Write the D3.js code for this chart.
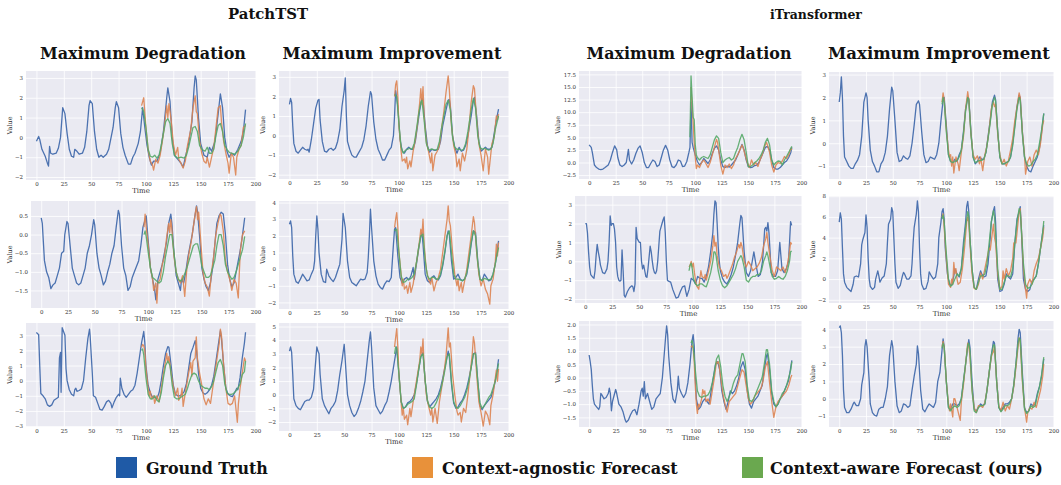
<!DOCTYPE html>
<html>
<head>
<meta charset="utf-8">
<script src="https://cdn.jsdelivr.net/npm/d3@7"></script>
<style>
body { margin: 0; background: #fff; }
svg { display: block; }
</style>
</head>
<body>
<svg width="1061" height="485"></svg>
<script>
// values, [time, value]
// gt = ground truth, ag = context-agnostic forecast, aw = context-aware forecast

// PatchTST / max degradation
var gt1 = [[0,-0.2],[2,0.05],[3,-0.1],[5,-0.6],[8,-0.95],[10,-1.3],[11,-1.45],[12,-0.45],[13,-0.8],[15,-0.85],[18,-0.8],[20,-0.55],[22,0.0],[24,1.5],[26,1.2],[28,0.2],[30,-0.6],[32,-0.95],[34,-1.0],[35,-0.6],[37,-0.7],[39,-0.85],[42,-0.8],[44,-0.5],[46,0.3],[48,1.6],[49,1.85],[51,1.7],[53,0.3],[55,-0.6],[57,-1.0],[59,-0.9],[61,-1.0],[64,-0.85],[66,-0.6],[70,0.5],[72,1.5],[73,1.8],[75,1.5],[77,0.2],[79,-0.5],[81,-0.9],[84,-1.35],[86,-1.35],[88,-1.0],[90,-0.8],[93,-0.3],[95,0.3],[97,1.5],[99,0.5],[101,-0.4],[103,-1.0],[105,-1.4],[107,-1.2],[110,-1.2],[113,-0.8],[116,0.3],[119,2.0],[120,2.5],[122,1.8],[124,0.0],[126,-0.9],[129,-1.1],[132,-1.3],[134,-1.5],[136,-1.0],[139,-0.3],[142,0.8],[144,2.5],[145,3.1],[146,2.9],[148,1.0],[150,-0.3],[153,-0.9],[156,-1.0],[158,-0.5],[160,-0.7],[163,-0.2],[166,1.2],[168,2.2],[170,1.5],[172,0.0],[174,-0.7],[176,-1.0],[178,-0.8],[181,-0.9],[184,-0.6],[187,-0.2],[189,0.3],[191,1.4]];
var ag1 = [[96,1.6],[98,2.0],[100,0.5],[102,-0.6],[104,-1.2],[106,-1.4],[107,-1.65],[109,-1.1],[111,-1.3],[113,-0.9],[115,-0.2],[117,0.6],[119,1.6],[120,1.0],[121,1.7],[123,0.9],[125,-0.3],[127,-0.9],[129,-0.5],[130,-1.1],[132,-1.3],[134,-1.55],[136,-1.2],[138,-0.4],[141,0.4],[143,1.5],[145,2.1],[146,1.3],[147,1.2],[149,-0.2],[151,-0.8],[153,-1.2],[155,-1.3],[156,-1.0],[158,-1.5],[160,-1.0],[162,-0.5],[164,0.5],[166,1.5],[168,1.6],[169,0.8],[171,-0.2],[173,-0.8],[175,-1.3],[176,-1.8],[178,-0.8],[180,-1.0],[182,-1.9],[183,-1.0],[185,-0.6],[187,-0.4],[189,0.5],[191,0.6]];
var aw1 = [[96,1.5],[98,1.3],[100,0.5],[102,-0.6],[104,-0.95],[106,-1.0],[108,-0.9],[110,-1.05],[112,-0.9],[114,-0.4],[116,0.2],[118,0.8],[120,0.95],[122,0.7],[124,-0.3],[126,-0.9],[129,-1.05],[132,-1.0],[135,-1.05],[137,-0.9],[139,-0.5],[141,0.0],[143,0.5],[145,0.55],[147,0.3],[149,-0.4],[151,-0.6],[154,-0.7],[156,-0.5],[158,-0.8],[160,-0.8],[162,-0.6],[164,0.1],[166,0.6],[168,0.7],[170,0.3],[172,-0.4],[174,-0.6],[176,-0.75],[178,-0.8],[181,-0.85],[184,-0.7],[187,-0.4],[189,0.0],[191,0.7]];

// PatchTST / max improvement
var gt2 = [[0,1.6],[1,1.9],[2,1.7],[3,0.5],[4,-0.4],[6,-0.8],[8,-0.9],[10,-0.75],[12,-0.6],[14,-0.7],[16,-0.75],[17,-0.7],[18,-0.85],[20,-0.2],[22,0.6],[24,1.4],[26,1.8],[27,1.85],[28,0.8],[30,-0.3],[32,-0.8],[34,-0.85],[36,-0.7],[38,-0.65],[40,-0.75],[42,-0.65],[44,-0.3],[46,0.3],[48,1.5],[50,2.3],[51,2.95],[52,1.0],[53,-0.3],[55,-0.7],[57,-1.0],[59,-1.1],[61,-1.1],[63,-0.9],[66,-0.6],[68,-0.2],[70,0.5],[72,1.5],[74,2.25],[75,2.1],[77,0.7],[79,-0.2],[81,-0.7],[83,-0.95],[85,-1.25],[87,-1.25],[89,-1.0],[91,-0.75],[93,-0.6],[95,0.0],[96,1.0],[97,2.3],[99,1.5],[101,-0.2],[103,-0.8],[105,-0.9],[107,-0.7],[109,-0.6],[111,-0.7],[113,-0.7],[115,-0.3],[117,0.5],[119,1.3],[121,1.9],[122,1.8],[124,0.5],[126,-0.5],[128,-0.85],[130,-0.7],[132,-0.75],[134,-0.75],[136,-0.7],[138,-0.3],[140,0.5],[143,1.3],[145,1.8],[146,1.85],[147,1.5],[149,0.0],[151,-0.6],[153,-0.9],[155,-0.6],[157,-0.8],[159,-0.75],[161,-0.5],[163,0.0],[166,1.0],[168,1.8],[169,1.95],[171,1.0],[173,-0.3],[175,-0.8],[177,-0.7],[179,-0.6],[181,-0.7],[183,-0.7],[185,-0.6],[187,0.1],[189,0.8],[191,1.35]];
var ag2 = [[96,2.0],[97,2.6],[98,2.8],[99,2.0],[100,0.5],[102,-0.8],[103,-1.3],[105,-1.2],[106,-1.4],[107,-1.1],[108,-1.7],[110,-1.3],[111,-1.6],[113,-0.8],[115,-0.2],[117,0.6],[119,1.7],[120,2.4],[121,1.6],[122,2.5],[123,1.0],[125,-0.3],[127,-0.8],[129,-1.4],[130,-0.9],[131,-1.8],[133,-1.0],[135,-0.8],[137,-0.5],[139,0.4],[141,1.2],[143,2.2],[145,3.05],[146,2.4],[147,1.4],[148,0.5],[150,-0.5],[152,-1.0],[153,-1.6],[155,-1.2],[156,-1.8],[158,-0.9],[160,-1.3],[162,-0.7],[164,0.4],[166,1.7],[168,2.55],[169,2.4],[171,0.8],[173,-0.4],[175,-1.0],[177,-1.8],[179,-0.7],[181,-1.1],[182,-1.97],[184,-0.9],[185,-0.4],[187,-0.1],[189,1.0],[190,0.8],[191,1.1]];
var aw2 = [[96,2.1],[98,2.0],[100,0.6],[102,-0.6],[104,-0.9],[106,-0.75],[108,-0.7],[110,-0.65],[112,-0.7],[114,-0.4],[116,0.3],[118,1.1],[120,1.7],[121,1.8],[123,0.8],[125,-0.4],[127,-0.75],[129,-0.7],[131,-0.7],[133,-0.75],[135,-0.7],[137,-0.3],[139,0.4],[141,1.0],[143,1.6],[145,1.8],[147,1.3],[149,-0.1],[151,-0.6],[153,-0.7],[155,-0.7],[157,-0.75],[159,-0.7],[161,-0.4],[163,0.2],[166,1.3],[168,1.9],[170,1.4],[172,0.0],[174,-0.6],[176,-0.7],[178,-0.65],[180,-0.7],[182,-0.75],[184,-0.7],[186,-0.4],[188,0.3],[191,1.0]];

// iTransformer / max degradation
var gt3 = [[0,3.5],[2,3.0],[3,2.0],[5,-0.5],[7,-1.0],[9,-1.3],[11,-1.4],[13,-1.3],[15,-1.0],[18,-0.5],[20,0.5],[22,2.0],[24,3.3],[26,2.5],[27,1.0],[29,-0.5],[31,-0.8],[33,-0.5],[35,0.0],[37,2.6],[38,0.5],[40,-0.3],[42,0.5],[44,1.8],[46,2.8],[48,3.3],[50,2.0],[52,0.0],[54,-1.0],[56,-1.0],[58,-0.2],[60,0.5],[62,0.2],[64,-0.8],[66,-0.5],[68,1.0],[70,2.5],[72,3.4],[74,2.5],[76,0.5],[78,-0.8],[80,-1.0],[82,-0.5],[84,0.5],[86,0.3],[88,-0.8],[90,-0.7],[92,0.2],[94,2.0],[95,3.0],[96,12.0],[97,4.0],[98,3.0],[100,1.5],[102,0.2],[104,-0.5],[106,0.0],[108,0.8],[110,0.3],[112,-0.2],[114,0.5],[116,1.8],[118,2.8],[120,3.3],[122,2.5],[124,0.5],[126,-0.8],[128,-1.0],[130,-0.7],[132,-0.9],[134,-0.5],[136,0.0],[138,0.5],[140,1.5],[142,2.5],[144,3.6],[146,2.5],[148,0.5],[150,-0.8],[152,-1.0],[154,-0.9],[156,-0.6],[158,-0.5],[160,0.0],[162,1.0],[164,2.0],[166,3.0],[168,3.2],[170,2.5],[172,0.5],[174,-1.0],[176,-1.3],[178,-1.3],[180,-1.0],[182,-0.5],[184,0.0],[186,0.3],[188,1.0],[190,2.0],[191,3.0]];
var ag3 = [[96,15.0],[97,11.0],[98,8.0],[99,4.0],[100,1.0],[101,-1.2],[102,-0.5],[104,-1.0],[106,0.0],[108,0.5],[110,-0.2],[112,-1.0],[114,0.0],[116,1.5],[118,3.0],[120,4.6],[121,4.0],[122,2.5],[124,-0.5],[126,-2.3],[128,-0.5],[130,-1.0],[132,-0.3],[134,-1.2],[136,-0.5],[138,0.8],[140,1.5],[142,2.5],[144,3.5],[145,3.0],[147,1.5],[149,0.0],[151,-1.0],[153,0.5],[155,-0.5],[157,0.0],[159,-0.8],[161,0.5],[163,1.5],[165,3.0],[167,4.0],[168,3.5],[170,2.0],[172,-0.5],[174,-1.9],[176,-0.5],[178,0.0],[180,-0.2],[182,0.3],[184,1.2],[186,0.8],[188,1.5],[190,2.8],[191,2.5]];
var aw3 = [[95,5.0],[96,17.2],[97,13.0],[98,9.0],[99,8.5],[100,3.5],[101,1.5],[102,1.0],[104,0.5],[106,1.0],[108,1.2],[110,1.0],[112,0.8],[114,1.5],[116,3.0],[118,4.5],[120,5.3],[122,4.8],[124,2.0],[126,0.0],[128,0.5],[130,0.8],[132,1.0],[134,0.5],[136,0.8],[138,2.0],[140,3.0],[142,4.5],[144,5.6],[146,4.5],[148,2.0],[150,-0.8],[152,-0.8],[154,-0.5],[156,0.0],[158,0.3],[160,0.8],[162,1.5],[164,2.5],[166,4.0],[168,4.8],[170,3.5],[172,0.5],[174,-0.5],[176,0.0],[178,0.3],[180,0.2],[182,-0.5],[184,0.5],[186,1.2],[188,2.0],[190,2.8],[191,3.2]];

// iTransformer / max improvement
var gt4 = [[0,1.8],[1,2.2],[2,2.9],[3,2.0],[4,0.3],[5,-0.6],[7,-0.8],[9,-1.0],[11,-1.1],[13,-1.1],[15,-0.9],[17,-0.75],[19,-0.5],[21,0.3],[23,1.8],[25,2.2],[26,2.0],[27,1.0],[29,-0.3],[31,-0.8],[33,-1.0],[35,-1.25],[37,-1.25],[39,-0.9],[41,-0.75],[43,-0.4],[45,0.3],[47,1.5],[49,2.45],[50,2.3],[52,1.0],[54,-0.4],[56,-0.8],[58,-0.75],[60,-0.55],[62,-0.65],[64,-0.7],[66,-0.55],[68,0.0],[70,0.8],[72,1.7],[74,1.85],[75,1.7],[77,0.5],[79,-0.5],[81,-0.85],[83,-0.8],[85,-0.6],[87,-0.65],[89,-0.7],[91,-0.5],[93,0.0],[95,1.0],[97,1.9],[98,2.0],[100,0.8],[102,-0.5],[104,-0.8],[106,-0.85],[108,-0.7],[110,-0.8],[112,-0.5],[114,-0.3],[116,0.5],[118,1.5],[120,2.0],[121,1.95],[123,0.5],[125,-0.6],[127,-0.9],[129,-0.8],[131,-0.6],[133,-0.7],[135,-0.7],[137,-0.4],[139,0.3],[141,1.0],[143,1.8],[145,2.1],[146,1.9],[148,0.5],[150,-0.6],[152,-0.9],[154,-0.9],[156,-0.85],[158,-0.8],[160,-0.6],[162,0.0],[164,0.8],[166,1.6],[168,2.1],[169,2.0],[171,0.5],[173,-0.6],[175,-1.0],[177,-1.2],[179,-1.25],[181,-1.0],[183,-0.8],[185,-0.6],[187,-0.2],[189,0.5],[191,1.3]];
var ag4 = [[96,1.8],[97,2.2],[98,1.9],[100,0.6],[102,-0.3],[103,-0.6],[104,-0.5],[105,-1.0],[106,-0.6],[107,-1.3],[109,-0.6],[111,-0.9],[112,-1.2],[114,-0.4],[116,0.3],[118,1.5],[120,2.25],[121,1.9],[123,0.4],[125,-0.5],[127,-0.7],[129,-0.55],[131,-0.9],[132,-0.6],[134,-1.2],[136,-0.5],[138,-0.1],[140,0.6],[142,1.5],[144,1.8],[145,1.6],[146,1.7],[148,0.4],[150,-0.5],[152,-0.9],[154,-0.7],[156,-1.0],[158,-0.75],[160,-0.3],[162,0.2],[164,1.0],[166,1.6],[168,2.2],[169,2.0],[171,0.5],[173,-0.5],[174,-1.35],[176,-0.8],[178,-0.6],[180,-1.0],[182,-0.5],[184,-0.3],[186,-0.5],[188,0.0],[190,0.8],[191,1.0]];
var aw4 = [[96,1.7],[97,2.0],[98,1.8],[100,0.5],[102,-0.5],[104,-0.8],[106,-0.85],[108,-0.8],[110,-0.75],[112,-0.6],[114,-0.3],[116,0.4],[118,1.4],[120,2.0],[121,1.9],[123,0.4],[125,-0.6],[127,-0.85],[129,-0.8],[131,-0.75],[133,-0.75],[135,-0.7],[137,-0.4],[139,0.2],[141,0.9],[143,1.7],[145,2.0],[146,1.85],[148,0.5],[150,-0.6],[152,-0.9],[154,-0.9],[156,-0.85],[158,-0.8],[160,-0.6],[162,-0.1],[164,0.7],[166,1.5],[168,2.0],[169,1.9],[171,0.4],[173,-0.6],[175,-0.9],[177,-1.0],[179,-0.95],[181,-0.8],[183,-0.7],[185,-0.5],[187,0.0],[189,0.6],[191,1.3]];

// PatchTST / max degradation, row 2
var gt5 = [[0,0.45],[1,0.3],[2,-0.2],[3,-0.7],[5,-1.0],[7,-1.15],[9,-1.45],[11,-1.35],[13,-1.3],[15,-1.1],[17,-0.9],[19,-0.5],[21,-0.45],[22,0.0],[24,0.35],[25,0.3],[27,-0.3],[29,-0.9],[31,-1.1],[33,-1.3],[35,-1.35],[37,-1.3],[39,-1.1],[41,-0.9],[43,-0.5],[45,-0.3],[47,0.0],[49,0.4],[50,0.25],[52,-0.5],[54,-0.9],[56,-1.1],[58,-1.35],[60,-1.25],[62,-1.0],[64,-0.8],[66,-0.5],[68,-0.3],[70,0.2],[72,0.65],[73,0.55],[75,-0.3],[77,-0.9],[79,-1.1],[81,-1.5],[83,-1.4],[85,-1.15],[87,-1.0],[89,-0.85],[91,-0.7],[93,-0.3],[95,0.2],[97,0.4],[98,0.5],[100,-0.2],[102,-0.9],[104,-1.2],[106,-1.5],[107,-1.75],[109,-1.2],[111,-1.0],[113,-0.8],[115,-0.5],[117,-0.2],[119,0.3],[121,0.55],[122,0.3],[124,-0.5],[126,-1.1],[128,-1.3],[130,-1.5],[131,-1.2],[133,-1.3],[135,-1.0],[137,-0.6],[139,-0.3],[141,0.0],[143,0.4],[145,0.77],[146,0.6],[148,-0.1],[150,-0.9],[152,-1.2],[154,-1.4],[156,-1.5],[158,-1.3],[160,-0.9],[162,-0.3],[164,0.3],[166,0.5],[168,0.6],[170,0.55],[172,0.0],[174,-0.8],[176,-1.2],[178,-1.4],[180,-1.3],[182,-1.0],[184,-0.7],[186,-0.4],[188,0.0],[190,0.45]];
var ag5 = [[96,0.2],[97,0.55],[98,0.2],[100,-0.3],[102,-0.9],[104,-1.2],[105,-1.5],[107,-1.3],[108,-1.84],[109,-1.3],[111,-1.2],[113,-0.8],[115,-0.6],[117,-0.1],[119,0.3],[120,0.05],[121,0.4],[122,0.15],[124,-0.6],[126,-1.0],[128,-1.2],[130,-1.3],[132,-1.1],[134,-1.66],[136,-0.9],[138,-0.5],[140,-0.2],[142,0.2],[144,0.6],[145,0.75],[146,0.4],[147,0.6],[149,-0.2],[151,-1.0],[153,-1.3],[155,-1.4],[157,-1.65],[159,-1.0],[161,-0.6],[163,0.0],[165,0.3],[167,0.55],[168,0.5],[170,0.1],[172,-0.7],[174,-1.0],[176,-1.2],[178,-1.5],[180,-1.2],[182,-1.3],[184,-1.7],[185,-1.0],[186,-0.4],[188,0.0],[190,0.1]];
var aw5 = [[96,0.0],[97,0.1],[98,-0.05],[100,-0.5],[102,-0.9],[104,-1.15],[106,-1.2],[108,-1.25],[110,-1.3],[112,-1.25],[114,-1.0],[116,-0.6],[118,-0.3],[120,0.0],[122,0.0],[124,-0.5],[126,-1.0],[128,-1.2],[130,-1.25],[132,-1.2],[134,-1.05],[136,-0.9],[138,-0.7],[140,-0.5],[142,-0.3],[144,-0.25],[146,-0.25],[148,-0.5],[150,-0.85],[152,-1.0],[154,-1.15],[156,-1.15],[158,-1.1],[160,-0.9],[162,-0.7],[164,-0.3],[166,0.0],[168,0.0],[170,-0.3],[172,-0.8],[174,-1.0],[176,-1.1],[178,-1.2],[180,-1.15],[182,-1.0],[184,-0.8],[186,-0.6],[188,-0.4],[190,-0.05]];

// PatchTST / max improvement, row 2
var gt6 = [[0,2.7],[1,2.9],[2,2.5],[3,0.8],[4,-0.3],[6,-0.75],[8,-0.85],[10,-0.6],[12,-0.3],[14,-0.5],[16,-0.7],[18,-0.65],[20,-0.3],[22,0.0],[23,0.5],[24,2.0],[25,3.2],[26,2.4],[27,1.0],[29,-0.3],[31,-0.75],[33,-0.8],[34,0.0],[36,-0.4],[38,-0.6],[40,-0.75],[42,-0.5],[44,-0.1],[46,0.3],[48,1.8],[49,3.35],[51,2.5],[53,0.5],[55,-0.5],[57,-0.8],[59,-0.9],[61,-1.0],[63,-0.8],[65,-0.6],[67,-0.65],[69,-0.6],[71,-0.2],[72,0.7],[73,2.0],[74,3.6],[75,2.5],[77,0.5],[79,-0.4],[81,-0.9],[83,-1.1],[85,-1.2],[87,-0.9],[89,-0.7],[91,-0.75],[93,-0.5],[94,0.5],[95,1.5],[96,2.4],[97,2.5],[99,0.8],[101,-0.5],[103,-0.85],[105,-0.6],[107,-0.5],[109,-0.65],[111,-0.4],[113,0.1],[114,-0.6],[116,0.3],[118,1.2],[120,2.0],[121,2.2],[122,1.5],[124,-0.3],[126,-0.7],[128,-0.8],[130,-0.5],[132,-0.4],[134,-0.6],[136,-0.65],[138,-0.4],[140,0.2],[142,1.0],[144,2.0],[145,2.3],[146,2.1],[148,0.5],[150,-0.6],[152,-0.5],[154,-0.3],[156,-0.6],[158,-0.7],[160,-0.6],[162,-0.3],[164,0.5],[166,1.5],[168,2.3],[170,2.2],[172,0.5],[174,-0.6],[176,-0.7],[178,-0.3],[180,-0.5],[182,-0.7],[184,-0.65],[186,-0.3],[188,0.3],[190,1.2],[191,1.7]];
var ag6 = [[96,2.5],[97,3.0],[98,3.4],[99,2.5],[100,1.0],[102,-0.3],[103,-1.0],[104,-0.6],[105,-1.2],[107,-1.0],[108,-1.45],[110,-0.8],[111,-1.4],[113,-0.9],[115,0.0],[117,0.8],[119,1.8],[120,2.4],[121,2.0],[122,3.0],[123,1.5],[125,0.0],[127,-0.6],[129,-0.9],[130,-0.5],[132,-1.3],[134,-0.8],[136,-0.5],[138,0.0],[140,1.0],[142,2.0],[144,3.0],[145,3.8],[146,2.9],[147,2.6],[149,1.0],[151,-0.3],[153,-1.0],[154,-0.6],[155,-1.3],[157,-0.8],[158,-1.4],[160,-0.7],[162,0.0],[164,1.0],[166,2.0],[168,3.15],[169,2.8],[171,1.0],[173,-0.3],[175,-1.0],[177,-0.6],[179,-1.2],[181,-1.5],[183,-2.1],[184,-1.0],[186,-0.6],[188,0.4],[189,1.5],[190,0.8],[191,1.6]];
var aw6 = [[96,2.3],[98,2.4],[100,1.0],[102,-0.4],[104,-0.8],[106,-0.75],[108,-0.6],[110,-0.6],[112,-0.5],[114,-0.3],[116,0.4],[118,1.3],[120,2.0],[122,2.1],[124,0.5],[126,-0.4],[128,-0.6],[130,-0.5],[132,-0.5],[134,-0.6],[136,-0.6],[138,-0.3],[140,0.3],[142,1.1],[144,2.0],[146,2.3],[148,1.0],[150,-0.3],[152,-0.6],[154,-0.6],[156,-0.65],[158,-0.7],[160,-0.6],[162,-0.2],[164,0.6],[166,1.6],[168,2.3],[170,2.0],[172,0.4],[174,-0.6],[176,-0.7],[178,-0.55],[180,-0.6],[182,-0.65],[184,-0.6],[186,-0.3],[188,0.3],[190,1.0],[191,1.3]];

// iTransformer / max degradation, row 2
var gt7 = [[0,2.0],[1,2.0],[2,1.5],[3,0.5],[4,-0.3],[5,-0.7],[7,-0.85],[8,-0.9],[9,-0.5],[10,0.3],[11,0.9],[12,0.5],[13,0.2],[14,-0.2],[16,-0.6],[18,-0.65],[20,-0.4],[21,0.0],[22,1.0],[23,2.4],[24,1.9],[25,2.0],[26,2.0],[27,1.7],[28,1.0],[29,-0.3],[30,-0.8],[31,-1.0],[32,-1.05],[33,-1.0],[34,0.6],[35,-0.5],[36,-1.8],[37,-1.9],[39,-1.6],[41,-1.4],[43,-1.3],[44,-1.35],[45,-1.6],[46,-1.2],[47,1.8],[48,1.2],[50,1.0],[51,1.0],[52,0.0],[53,-0.4],[54,-0.2],[55,-0.5],[56,-0.8],[57,-0.85],[58,-0.4],[59,0.2],[60,0.8],[61,0.5],[62,0.0],[63,-0.4],[64,-0.6],[65,-0.65],[66,-0.5],[67,0.0],[68,0.8],[69,1.6],[70,1.8],[71,2.0],[72,2.2],[73,2.35],[74,1.5],[75,0.0],[76,-1.0],[77,-1.05],[79,-1.1],[81,-1.5],[83,-1.8],[84,-1.95],[86,-1.9],[88,-1.6],[90,-1.35],[92,-1.3],[93,-1.6],[94,-1.85],[96,-1.5],[98,-0.9],[100,-1.0],[102,-1.2],[104,-0.8],[106,-0.9],[108,-0.9],[110,-1.1],[112,-0.8],[114,-0.3],[116,0.5],[118,1.5],[119,2.5],[120,3.2],[121,3.1],[122,2.0],[123,0.8],[124,0.0],[125,-0.5],[127,-0.9],[129,-1.1],[131,-1.2],[133,-1.0],[135,-0.7],[137,-0.3],[139,0.3],[141,1.0],[143,2.0],[144,2.43],[145,2.3],[147,0.5],[149,-0.6],[151,-0.8],[153,-0.5],[156,0.5],[158,-0.2],[160,-0.8],[162,-0.7],[164,0.0],[165,0.8],[166,1.7],[167,1.8],[168,1.6],[169,2.05],[170,1.5],[171,0.5],[172,-0.6],[174,-0.8],[176,-0.8],[178,-0.5],[180,1.0],[182,-0.4],[184,-0.6],[186,-0.4],[188,0.0],[189,1.0],[190,2.1],[191,1.9]];
var ag7 = [[96,-0.3],[97,-0.2],[98,0.0],[99,-0.3],[100,-0.1],[101,-0.6],[102,-1.0],[103,-1.3],[105,-1.48],[106,-0.9],[107,-0.5],[108,-0.8],[110,-0.9],[111,-0.7],[112,-1.0],[114,-0.5],[116,0.0],[118,0.8],[119,1.36],[120,0.8],[121,1.0],[122,0.3],[124,-0.3],[126,-0.5],[128,-0.8],[130,-0.7],[131,-0.9],[132,-0.8],[134,-0.5],[136,-0.2],[138,0.2],[140,0.5],[142,0.9],[143,0.7],[144,1.0],[145,0.8],[147,0.0],[149,-0.3],[151,0.0],[153,-0.2],[155,-0.5],[157,-0.4],[159,-0.3],[161,-0.1],[163,0.2],[165,0.8],[167,1.2],[168,1.53],[169,1.0],[171,0.2],[173,-0.5],[175,-0.8],[177,-0.3],[179,-0.4],[181,-0.5],[183,-0.3],[185,-0.6],[187,-0.2],[189,0.5],[190,1.0],[191,0.9]];
var aw7 = [[96,-0.5],[97,-0.2],[98,-0.1],[99,-0.4],[100,-0.9],[102,-1.2],[104,-1.3],[106,-1.2],[108,-1.2],[110,-1.3],[112,-1.35],[114,-1.0],[116,-0.6],[118,0.0],[119,0.5],[120,0.5],[121,0.3],[123,-0.5],[125,-1.0],[127,-1.3],[129,-1.4],[131,-1.3],[133,-1.1],[135,-0.9],[137,-0.7],[139,-0.4],[141,0.0],[143,0.2],[144,0.3],[145,0.2],[147,-0.3],[149,-1.0],[151,-1.1],[153,-0.9],[155,-0.8],[157,-0.8],[159,-0.7],[161,-0.7],[163,-0.5],[165,0.0],[167,0.3],[168,0.5],[169,0.3],[171,-0.3],[173,-0.8],[175,-0.95],[177,-0.9],[179,-0.8],[181,-0.9],[183,-0.95],[185,-0.8],[187,-0.5],[189,0.0],[190,0.5],[191,0.55]];

// iTransformer / max improvement, row 2
var gt8 = [[0,5.5],[1,6.4],[2,5.8],[3,3.0],[4,0.5],[5,-0.3],[7,-0.8],[9,-1.0],[11,-1.2],[13,-0.5],[14,0.2],[16,0.3],[18,0.2],[20,1.5],[21,3.3],[22,3.8],[24,4.5],[25,6.2],[26,5.0],[27,2.0],[28,0.0],[29,-0.7],[31,-1.0],[33,-0.8],[34,0.0],[36,0.8],[37,0.3],[38,-0.3],[40,0.1],[42,0.3],[44,1.5],[45,3.5],[46,5.3],[48,5.8],[49,6.9],[50,6.5],[51,4.0],[52,1.5],[53,-0.3],[55,-0.9],[57,-0.6],[59,0.3],[60,0.65],[61,0.5],[63,0.0],[65,0.0],[67,0.3],[68,1.5],[69,3.5],[70,5.0],[72,6.3],[73,7.55],[74,6.5],[75,3.0],[76,0.5],[77,-0.5],[79,-1.0],[81,-0.9],[83,-0.2],[84,0.7],[86,0.3],[88,0.0],[90,0.2],[92,1.5],[93,4.0],[95,5.5],[96,6.5],[97,6.8],[98,5.8],[99,3.0],[101,0.5],[103,-0.5],[105,-0.6],[107,0.3],[108,1.0],[110,0.5],[112,0.2],[114,1.0],[116,3.5],[118,5.5],[119,7.0],[120,7.5],[121,6.5],[122,4.0],[124,1.0],[126,-0.8],[128,-1.0],[130,0.0],[132,0.8],[133,0.5],[135,0.2],[137,0.3],[139,1.5],[141,4.0],[142,5.5],[144,6.6],[145,7.0],[146,5.5],[147,2.5],[148,0.0],[150,-1.2],[152,-1.1],[154,-0.5],[156,0.5],[158,0.2],[160,0.0],[162,0.5],[164,3.5],[166,5.8],[168,6.5],[169,7.0],[170,5.0],[171,2.5],[172,0.0],[174,-1.0],[176,-1.2],[178,-1.0],[180,-0.2],[182,0.0],[184,0.3],[186,1.5],[188,3.0],[190,4.5],[191,5.2]];
var ag8 = [[96,6.0],[97,6.3],[98,5.0],[100,2.0],[102,-0.5],[104,-0.8],[105,0.0],[106,-0.5],[107,1.6],[108,0.5],[109,1.0],[110,0.0],[111,-0.5],[113,-0.3],[115,1.0],[117,3.0],[119,5.5],[120,6.0],[121,5.5],[122,3.5],[124,0.5],[126,-0.9],[128,-1.0],[130,-0.5],[132,0.6],[134,0.0],[136,1.0],[138,2.0],[140,3.0],[141,2.8],[143,4.5],[144,5.3],[145,4.0],[146,3.5],[148,0.5],[150,-1.0],[152,-0.7],[153,0.8],[154,0.0],[156,1.0],[158,0.3],[160,0.8],[162,2.0],[163,3.5],[165,3.5],[167,5.5],[168,6.5],[169,6.8],[170,5.0],[172,1.0],[174,-1.0],[175,-1.84],[176,-0.5],[178,0.0],[180,-0.5],[182,0.8],[184,1.5],[186,2.0],[188,3.0],[190,4.0],[191,5.0]];
var aw8 = [[96,5.8],[97,6.2],[98,5.5],[100,2.5],[102,0.0],[104,-0.7],[106,-0.5],[108,0.0],[110,0.5],[112,0.3],[114,1.0],[116,3.0],[118,5.0],[120,6.5],[121,6.0],[122,4.0],[124,1.0],[126,-0.8],[128,-1.0],[130,-0.3],[132,0.3],[134,0.3],[136,0.5],[138,1.5],[140,3.5],[142,5.5],[144,6.6],[145,6.0],[146,4.5],[148,1.0],[150,-1.0],[152,-1.0],[154,-0.3],[156,0.3],[158,0.3],[160,0.2],[162,1.0],[164,3.5],[166,5.5],[168,6.8],[169,6.5],[170,5.0],[172,1.5],[174,-0.5],[176,-0.9],[178,-0.8],[180,-0.5],[182,0.0],[184,0.3],[186,1.5],[188,3.0],[190,4.5],[191,5.6]];

// PatchTST / max degradation, row 3
var gt9 = [[0,3.2],[1,3.1],[2,3.05],[3,1.0],[4,-0.85],[6,-1.0],[8,-1.2],[10,-1.6],[12,-1.7],[14,-1.6],[16,-1.3],[18,-1.2],[20,-1.1],[21,1.5],[22,1.87],[22.5,-0.77],[23.5,3.5],[25,3.2],[26,3.0],[27,0.8],[28,0.0],[30,-0.6],[32,-0.9],[34,-1.0],[35,-0.6],[36,-0.5],[37,-0.7],[39,-0.65],[41,-0.55],[43,0.0],[45,1.5],[47,2.8],[48.5,3.4],[49,3.0],[51,0.5],[52,-1.0],[54,-1.1],[56,-1.5],[58,-1.9],[60,-1.95],[62,-1.7],[64,-1.4],[66,-1.3],[68,-1.5],[69,-1.8],[71,-1.4],[73,-1.1],[75,-0.9],[76,-1.0],[76.6,0.17],[78,-0.5],[80,-0.9],[82,-1.1],[84,-0.9],[86,-0.7],[88,-0.6],[90,-0.3],[92,0.5],[94,1.5],[96,2.5],[98,3.25],[99,2.5],[100,1.0],[102,-0.3],[104,-0.8],[106,-1.1],[108,-1.1],[110,-1.2],[112,-0.8],[114,0.0],[116,1.0],[118,1.8],[120,2.25],[121,2.2],[123,1.0],[125,-0.3],[127,-0.9],[129,-1.0],[131,-1.0],[133,-0.9],[135,-0.7],[137,-0.2],[139,0.8],[141,1.8],[143,2.2],[145,2.64],[146,2.2],[148,0.5],[150,-0.5],[152,-0.8],[154,-0.9],[156,-0.8],[158,-0.6],[160,-0.3],[162,0.3],[164,1.3],[166,2.3],[168,3.3],[169,2.8],[171,1.0],[173,-0.5],[175,-0.9],[177,-1.0],[179,-1.05],[181,-0.8],[183,-0.5],[184,-0.6],[186,0.2],[188,1.5],[190,2.5],[191,3.2]];
var ag9 = [[96,2.2],[97,2.4],[98,2.3],[99,2.0],[100,0.8],[102,-0.5],[103,-1.0],[104,-0.7],[105,-1.2],[107,-1.0],[108,-1.5],[110,-1.0],[112,-1.4],[114,-0.5],[116,0.5],[118,1.3],[119,1.8],[120,1.2],[121,1.6],[123,0.5],[125,-0.4],[127,-1.0],[129,-0.5],[130,-1.3],[132,-1.0],[133,-0.5],[134,-1.7],[136,-0.8],[139,0.5],[141,1.2],[142,0.3],[143,1.3],[145,1.5],[146,2.9],[147,1.5],[149,0.5],[151,-0.3],[153,-1.2],[155,-1.6],[157,-1.2],[159,-1.5],[161,-0.5],[163,0.5],[165,1.5],[167,2.5],[168,3.4],[169,3.0],[171,1.0],[173,-0.5],[175,-1.5],[177,-1.6],[179,-1.5],[181,-1.0],[183.5,-2.75],[184.5,-1.5],[186,-0.5],[188,0.5],[190,1.5],[191,1.3]];
var aw9 = [[96,2.0],[97,2.1],[98,1.7],[100,0.2],[102,-0.9],[104,-1.2],[106,-1.2],[108,-1.0],[110,-1.3],[112,-1.4],[114,-0.8],[116,0.2],[118,1.0],[120,1.3],[122,1.0],[124,-0.3],[126,-1.1],[128,-1.2],[130,-1.2],[132,-1.1],[134,-1.0],[136,-0.9],[138,-0.5],[140,0.0],[142,0.4],[144,0.5],[146,0.4],[148,0.0],[150,-0.3],[152,-0.4],[154,-0.5],[156,-0.5],[158,-0.6],[160,-0.4],[162,0.0],[164,0.6],[166,1.2],[168,1.4],[170,1.0],[172,-0.2],[174,-0.8],[176,-0.9],[178,-0.9],[180,-0.85],[182,-0.7],[184,-0.5],[186,-0.2],[188,0.4],[190,0.6],[191,1.3]];

// PatchTST / max improvement, row 3
var gt10 = [[0,3.2],[1,3.5],[2,3.1],[3,1.5],[4,-0.3],[6,-0.8],[8,-1.0],[10,-1.1],[12,-0.8],[14,-0.5],[16,-0.4],[18,-0.4],[20,-0.2],[22,0.4],[23,1.5],[24,2.5],[25,3.5],[26,3.2],[27,3.0],[28,1.5],[30,-0.3],[32,-0.8],[34,-1.1],[36,-1.4],[38,-1.0],[40,-0.8],[42,-0.5],[44,0.3],[46,1.5],[48,2.5],[50,3.7],[51,2.5],[53,0.0],[55,-0.8],[57,-1.3],[59,-1.6],[61,-1.4],[63,-1.0],[65,-0.5],[67,0.2],[69,1.0],[71,2.5],[73,4.0],[74,4.6],[75,3.5],[77,0.5],[79,-0.8],[81,-1.1],[83,-1.4],[85,-1.2],[87,-0.8],[89,-0.5],[91,0.2],[93,1.0],[95,2.0],[97,3.0],[98,3.5],[100,1.5],[102,-0.5],[104,-1.0],[106,-0.9],[108,-0.6],[110,-0.5],[112,-0.3],[114,0.0],[116,0.8],[118,1.8],[120,2.8],[122,3.1],[124,1.0],[126,-0.5],[128,-0.9],[130,-0.7],[132,-0.5],[134,-0.3],[136,0.0],[138,0.5],[140,1.2],[142,2.0],[144,2.8],[145,3.2],[146,2.8],[148,0.8],[150,-0.6],[152,-1.0],[154,-0.9],[156,-0.6],[158,-0.4],[160,0.0],[162,0.5],[164,1.2],[166,2.0],[168,3.0],[170,3.1],[172,1.0],[174,-0.8],[176,-1.1],[178,-0.8],[180,-0.6],[182,-0.4],[184,-0.2],[186,0.3],[188,1.0],[190,2.0],[191,2.6]];
var ag10 = [[96,3.5],[97,4.2],[98,4.85],[99,3.5],[100,1.5],[102,-0.5],[103,-1.5],[104,-1.0],[105,-1.8],[107,-1.5],[108,-2.2],[110,-1.0],[111,-1.6],[113,-0.5],[115,0.5],[117,1.5],[119,2.5],[120,3.5],[121,3.0],[122,4.1],[123,2.0],[125,0.0],[127,-0.8],[129,-1.5],[130,-1.0],[131,-2.0],[133,-1.0],[135,-2.1],[137,-0.5],[139,0.5],[141,1.5],[143,2.8],[145,4.9],[146,3.5],[147,3.8],[149,1.5],[151,0.0],[153,-1.2],[154,-1.5],[156,-1.3],[157,-2.0],[159,-1.0],[161,-1.3],[163,0.0],[165,1.5],[167,3.0],[168,4.25],[169,3.8],[171,1.5],[173,-0.5],[175,-1.3],[177,-2.3],[179,-1.2],[181,-1.5],[183,-2.2],[184,-0.8],[186,0.0],[188,1.2],[189,1.8],[190,1.0],[191,1.9]];
var aw10 = [[96,3.0],[97,3.5],[98,3.4],[100,1.5],[102,-0.5],[104,-1.0],[106,-0.9],[108,-0.7],[110,-0.6],[112,-0.5],[114,-0.3],[116,0.7],[118,1.8],[120,2.8],[122,3.0],[124,1.0],[126,-0.4],[128,-0.9],[130,-1.0],[132,-0.9],[134,-0.6],[136,-0.2],[138,0.3],[140,1.0],[142,1.8],[144,2.8],[146,3.0],[148,1.0],[150,-0.5],[152,-0.9],[154,-1.0],[156,-0.8],[158,-0.5],[160,-0.2],[162,0.3],[164,1.0],[166,2.0],[168,3.0],[170,3.0],[172,1.0],[174,-0.6],[176,-1.0],[178,-0.8],[180,-0.5],[182,-0.2],[184,0.0],[186,0.5],[188,1.0],[190,1.8],[191,2.3]];

// iTransformer / max degradation, row 3
var gt11 = [[0,0.85],[1,0.6],[2,0.3],[3,-0.3],[4,-0.8],[5,-1.0],[7,-1.1],[9,-1.2],[10,-1.1],[11,-0.6],[12,-0.65],[14,-0.8],[16,-0.75],[18,-0.6],[19,-0.4],[20,-0.6],[21,-1.25],[22,-0.9],[24,-0.6],[25,-0.45],[26,-0.6],[28,-1.0],[30,-1.1],[32,-1.3],[34,-1.6],[35,-1.68],[37,-1.6],[39,-1.4],[41,-1.25],[43,-1.2],[44,-1.3],[45,-1.4],[47,-1.0],[49,-0.5],[50,-0.4],[51,-0.7],[52,-0.15],[53,-0.8],[55,-0.6],[57,-0.9],[59,-1.2],[61,-1.1],[63,-0.8],[65,-0.7],[67,-0.6],[69,0.0],[71,1.0],[72,1.5],[73,1.95],[74,1.6],[75,0.8],[77,-0.2],[79,-0.8],[81,-0.95],[83,-0.5],[84,0.05],[85,-0.4],[87,-0.6],[89,-0.75],[91,-0.6],[93,-0.2],[95,0.5],[97,1.4],[98,1.62],[99,1.2],[100,0.0],[101,-0.8],[103,-1.2],[105,-1.1],[107,-0.9],[109,-0.8],[111,-0.9],[113,-1.0],[115,-0.5],[117,0.0],[119,0.5],[121,0.6],[123,0.3],[125,-0.5],[127,-0.9],[129,-1.2],[131,-0.9],[133,-0.5],[135,-0.6],[137,-0.5],[139,-0.3],[141,0.0],[143,0.4],[145,0.6],[147,0.3],[149,-0.5],[151,-1.0],[153,-1.15],[155,-0.9],[157,-0.8],[159,-0.7],[161,-0.5],[163,-0.3],[165,0.3],[167,0.8],[168,0.9],[170,0.3],[172,-0.6],[174,-1.0],[176,-1.1],[178,-1.0],[180,-0.8],[182,-0.7],[184,-0.5],[186,-0.3],[188,-0.1],[190,0.4],[191,0.65]];
var ag11 = [[96,1.15],[97,1.2],[98,1.1],[99,0.6],[100,-0.3],[101,-1.0],[102,-1.35],[103,-1.0],[104,-1.1],[106,-0.8],[107,-0.45],[108,-0.6],[109,-0.5],[110,-0.9],[112,-0.8],[114,-1.0],[116,-0.5],[118,0.0],[120,0.6],[121,0.55],[122,0.6],[124,0.0],[126,-0.6],[128,-1.0],[130,-1.3],[132,-0.9],[134,-0.8],[136,-0.7],[138,-0.6],[140,-0.3],[142,0.0],[144,0.3],[146,0.2],[148,-0.3],[150,-0.8],[152,-1.0],[154,-0.9],[156,-0.7],[158,-0.6],[160,-0.5],[162,-0.4],[164,-0.1],[166,0.4],[168,0.6],[170,-0.2],[172,-0.9],[174,-1.5],[176,-1.1],[178,-0.9],[180,-0.8],[182,-0.7],[184,-0.6],[186,-0.5],[188,-0.3],[190,0.0],[191,0.1]];
var aw11 = [[96,1.3],[97,1.4],[98,1.2],[100,0.3],[102,-0.5],[104,-0.7],[106,-0.75],[108,-0.7],[110,-0.7],[112,-0.65],[114,-0.5],[116,-0.2],[118,0.2],[120,0.7],[122,0.85],[124,0.4],[126,-0.3],[128,-0.7],[130,-0.9],[132,-0.7],[134,-0.5],[136,-0.2],[138,0.0],[140,0.1],[142,0.5],[144,0.9],[145,0.9],[147,0.6],[149,-0.3],[151,-0.85],[153,-0.9],[155,-0.8],[157,-0.6],[159,-0.4],[161,-0.2],[163,0.0],[165,0.5],[167,1.05],[168,1.05],[170,0.5],[172,-0.5],[174,-0.9],[176,-1.1],[178,-1.0],[180,-0.8],[182,-0.6],[184,-0.5],[186,-0.3],[188,0.0],[190,0.3],[191,0.6]];

// iTransformer / max improvement, row 3
var gt12 = [[0,4.1],[1,4.2],[2,3.8],[3,2.5],[4,0.5],[5,-0.5],[7,-0.8],[9,-0.8],[11,-0.6],[13,-0.3],[14,-0.2],[16,-0.4],[18,-0.4],[20,0.0],[21,0.8],[23,1.5],[24,3.0],[25,3.4],[26,3.0],[28,1.0],[29,-0.3],[31,-0.8],[33,-0.95],[35,-1.0],[37,-0.6],[39,-0.5],[41,-0.5],[43,0.0],[45,0.7],[47,2.5],[49,3.35],[50,3.0],[52,1.0],[54,-0.4],[56,-0.8],[58,-0.7],[60,-0.3],[62,-0.35],[64,-0.5],[66,-0.4],[68,0.5],[70,1.3],[72,2.0],[73,3.05],[74,2.6],[76,0.5],[78,-0.6],[80,-0.75],[82,-0.5],[84,-0.3],[86,-0.4],[88,-0.5],[90,-0.2],[92,1.0],[94,1.5],[96,2.8],[97,3.45],[98,3.0],[100,1.0],[102,-0.5],[104,-0.6],[106,-0.3],[108,-0.3],[110,-0.4],[112,-0.3],[114,0.0],[116,1.0],[118,2.0],[120,3.0],[121,3.4],[122,3.0],[124,1.0],[126,-0.6],[128,-0.7],[130,-0.5],[132,-0.3],[134,-0.4],[136,-0.3],[138,0.5],[140,1.5],[142,2.5],[144,3.3],[145,3.2],[147,1.0],[149,-0.5],[151,-0.7],[153,-0.5],[155,-0.3],[157,-0.3],[159,-0.2],[161,0.0],[163,0.8],[165,2.0],[167,3.5],[168,4.0],[169,3.8],[171,1.5],[173,-0.5],[175,-0.8],[177,-0.7],[179,-0.3],[181,-0.4],[183,-0.3],[185,0.3],[187,0.7],[189,1.3],[191,2.3]];
var ag12 = [[96,3.0],[97,3.3],[98,3.0],[100,1.0],[102,-0.3],[103,-0.7],[104,-0.3],[106,-1.05],[107,0.0],[108,0.0],[110,-0.5],[113,-1.25],[114,-0.2],[116,0.8],[118,2.0],[120,3.2],[121,3.0],[122,2.5],[124,0.5],[126,-0.5],[128,-0.8],[130,-0.4],[132,-0.4],[134,-0.5],[136,-0.2],[138,0.5],[140,1.5],[142,2.4],[143,2.6],[144,2.7],[145,3.0],[147,1.0],[149,-0.4],[151,-0.7],[153,-0.2],[155,-0.7],[157,-0.4],[159,-0.6],[161,0.0],[163,0.7],[165,1.8],[167,3.0],[168,3.5],[169,3.3],[171,1.0],[173,-0.5],[175,-1.35],[176,-0.8],[178,-0.5],[180,-0.6],[182,-0.2],[184,-0.5],[186,0.0],[188,0.5],[190,1.3],[191,2.0]];
var aw12 = [[96,2.9],[97,3.2],[98,3.0],[100,1.0],[102,-0.5],[104,-0.7],[106,-0.5],[108,-0.4],[110,-0.5],[112,-0.4],[114,0.0],[116,1.0],[118,2.0],[120,3.1],[121,3.2],[122,2.8],[124,0.5],[126,-0.7],[128,-0.8],[130,-0.5],[132,-0.4],[134,-0.4],[136,-0.3],[138,0.5],[140,1.5],[142,2.5],[144,3.1],[145,3.1],[147,1.0],[149,-0.5],[151,-0.75],[153,-0.6],[155,-0.4],[157,-0.4],[159,-0.3],[161,0.0],[163,0.8],[165,2.0],[167,3.2],[168,3.5],[169,3.4],[171,1.2],[173,-0.6],[175,-0.85],[177,-0.7],[179,-0.4],[181,-0.5],[183,-0.4],[185,0.2],[187,0.7],[189,1.4],[191,2.4]];

// tick labels
var xTicks = [0, 25, 50, 75, 100, 125, 150, 175, 200];
var yTicks1 = [-2, -1, 0, 1, 2, 3];
var yTicks2 = [-2, -1, 0, 1, 2, 3];
var yTicks3 = [-2.5, 0, 2.5, 5, 7.5, 10, 12.5, 15, 17.5];
var yTicks4 = [-1, 0, 1, 2, 3];
var yTicks5 = [-1.5, -1, -0.5, 0, 0.5];
var yTicks6 = [-2, -1, 0, 1, 2, 3, 4];
var yTicks7 = [-2, -1, 0, 1, 2, 3];
var yTicks8 = [-2, 0, 2, 4, 6, 8];
var yTicks9 = [-3, -2, -1, 0, 1, 2, 3];
var yTicks10 = [-2, -1, 0, 1, 2, 3, 4, 5];
var yTicks11 = [-1.5, -1, -0.5, 0, 0.5, 1, 1.5, 2];
var yTicks12 = [-1, 0, 1, 2, 3, 4];

var modelTitles = ['PatchTST', 'iTransformer'];
var colTitles = ['Maximum Degradation', 'Maximum Improvement', 'Maximum Degradation', 'Maximum Improvement'];
var legendLabels = ['Ground Truth', 'Context-agnostic Forecast', 'Context-aware Forecast (ours)'];

var colors = {gt: '#4c72b0', ag: '#dd8452', aw: '#55a868'};
var legendColors = ['#1f5aa6', '#e8913a', '#6aa84f'];

var serif = '"DejaVu Serif", "Liberation Serif", serif';
var svg = d3.select('svg');

// box: [left, right, top, bottom] in page pixels
var panels = [
  {gt: gt1, ag: ag1, aw: aw1, ticks: yTicks1, dec: 0, box: [26, 256, 71, 180]},
  {gt: gt2, ag: ag2, aw: aw2, ticks: yTicks2, dec: 0, box: [279, 509, 71, 179]},
  {gt: gt3, ag: ag3, aw: aw3, ticks: yTicks3, dec: 1, box: [579, 802, 71, 179]},
  {gt: gt4, ag: ag4, aw: aw4, ticks: yTicks4, dec: 0, box: [829, 1054, 72, 179]},
  {gt: gt5, ag: ag5, aw: aw5, ticks: yTicks5, dec: 1, box: [31, 256, 201, 308]},
  {gt: gt6, ag: ag6, aw: aw6, ticks: yTicks6, dec: 0, box: [279, 509, 201, 309]},
  {gt: gt7, ag: ag7, aw: aw7, ticks: yTicks7, dec: 0, box: [575, 802, 196, 303]},
  {gt: gt8, ag: ag8, aw: aw8, ticks: yTicks8, dec: 0, box: [829, 1054, 196, 303]},
  {gt: gt9, ag: ag9, aw: aw9, ticks: yTicks9, dec: 0, box: [26, 256, 323, 427]},
  {gt: gt10, ag: ag10, aw: aw10, ticks: yTicks10, dec: 0, box: [279, 509, 323, 431]},
  {gt: gt11, ag: ag11, aw: aw11, ticks: yTicks11, dec: 1, box: [579, 802, 321, 427]},
  {gt: gt12, ag: ag12, aw: aw12, ticks: yTicks12, dec: 0, box: [829, 1054, 321, 427]}
];

function fmtTick(dec) {
  var f = d3.format('.' + dec + 'f');
  return function(v) { return f(v).replace('-', '\u2212'); };
}

function drawPanel(p) {
  var l = p.box[0], r = p.box[1], t = p.box[2], b = p.box[3];
  var vals = p.gt.concat(p.ag, p.aw).map(function(d) { return d[1]; });
  var lo = d3.min(vals), hi = d3.max(vals), pad = (hi - lo) * 0.05;

  var x = d3.scaleLinear().domain([-9.55, 200.55]).range([l, r]);
  var y = d3.scaleLinear().domain([lo - pad, hi + pad]).range([b, t]);

  var g = svg.append('g');
  g.append('rect')
    .attr('x', l).attr('y', t)
    .attr('width', r - l).attr('height', b - t)
    .attr('fill', '#eaeaf2');

  var xa = g.append('g')
    .attr('transform', 'translate(0,' + b + ')')
    .call(d3.axisBottom(x).tickValues(xTicks).tickSize(-(b - t)).tickPadding(2).tickFormat(d3.format('d')));
  var ya = g.append('g')
    .attr('transform', 'translate(' + l + ',0)')
    .call(d3.axisLeft(y).tickValues(p.ticks).tickSize(-(r - l)).tickPadding(3).tickFormat(fmtTick(p.dec)));

  [xa, ya].forEach(function(a) {
    a.select('.domain').remove();
    a.selectAll('line').attr('stroke', '#fff').attr('stroke-width', 0.8);
    a.selectAll('text')
      .attr('fill', '#333')
      .style('font-family', serif)
      .style('font-size', '5.5px');
  });

  var line = d3.line()
    .x(function(d) { return x(d[0]); })
    .y(function(d) { return y(d[1]); });

  g.append('path').datum(p.gt).attr('d', line)
    .attr('fill', 'none').attr('stroke', colors.gt).attr('stroke-width', 1.3)
    .attr('stroke-linejoin', 'round');
  g.append('path').datum(p.ag).attr('d', line)
    .attr('fill', 'none').attr('stroke', colors.ag).attr('stroke-width', 1.3)
    .attr('stroke-opacity', 0.9).attr('stroke-linejoin', 'round');
  g.append('path').datum(p.aw).attr('d', line)
    .attr('fill', 'none').attr('stroke', colors.aw).attr('stroke-width', 1.3)
    .attr('stroke-opacity', 0.9).attr('stroke-linejoin', 'round');

  var bx = ya.node().getBBox().x + l;
  g.append('text')
    .attr('transform', 'translate(' + (bx - 2.5) + ',' + ((t + b) / 2) + ') rotate(-90)')
    .attr('text-anchor', 'middle')
    .attr('fill', '#333')
    .style('font-family', serif)
    .style('font-size', '6.5px')
    .text('Value');

  g.append('text')
    .attr('x', (l + r) / 2).attr('y', b + 13)
    .attr('text-anchor', 'middle')
    .attr('fill', '#333')
    .style('font-family', serif)
    .style('font-size', '7px')
    .text('Time');
}

panels.forEach(drawPanel);

// scale a bold title so it spans the width seen in the reference
function boldText(txt, x, y, w, anchor) {
  var el = svg.append('text')
    .attr('x', x).attr('y', y)
    .attr('text-anchor', anchor)
    .attr('dominant-baseline', 'central')
    .attr('fill', '#111')
    .style('font-family', serif)
    .style('font-weight', 'bold')
    .style('font-size', '16px')
    .text(txt);
  var len = el.node().getComputedTextLength();
  el.style('font-size', (16 * w / len) + 'px');
  return el;
}

boldText(modelTitles[0], 268, 14, 80, 'middle');
boldText(modelTitles[1], 816, 14, 92, 'middle');

var colCenters = [143, 392, 689, 939];
var colWidths = [206, 219, 205, 222];
colTitles.forEach(function(c, i) {
  boldText(c, colCenters[i], 53, colWidths[i], 'middle');
});

var legendX = [116, 412, 742];
var legendTextX = [146, 442, 770];
var legendW = [122, 236, 273];
legendLabels.forEach(function(lab, i) {
  svg.append('rect')
    .attr('x', legendX[i]).attr('y', 457)
    .attr('width', 21).attr('height', 21)
    .attr('fill', legendColors[i]);
  boldText(lab, legendTextX[i], 468, legendW[i], 'start');
});
</script>
</body>
</html>
